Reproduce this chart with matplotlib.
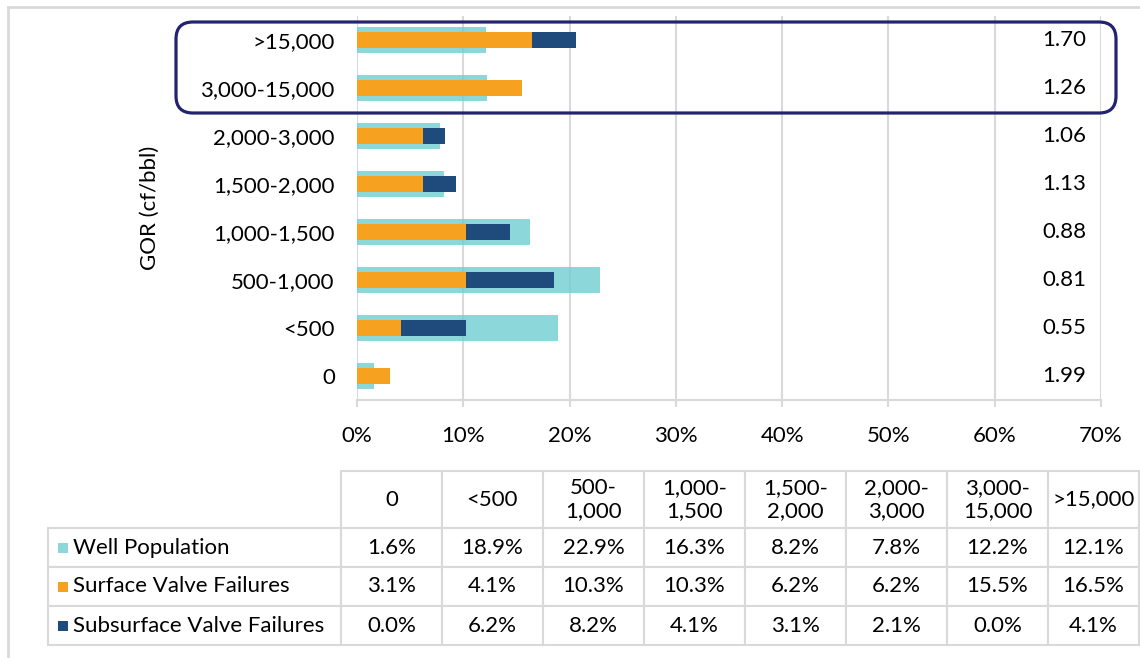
import numpy as np
import matplotlib
matplotlib.use("Agg")
import matplotlib.pyplot as plt
from matplotlib.table import Table
from matplotlib.patches import FancyBboxPatch, Rectangle
from matplotlib.lines import Line2D

plt.rcParams["font.family"] = ["Lato", "DejaVu Sans"]

# GOR classes, bottom to top
categories = ["0", "<500", "500-1,000", "1,000-1,500", "1,500-2,000",
              "2,000-3,000", "3,000-15,000", ">15,000"]
header_labels = ["0", "<500", "500-\n1,000", "1,000-\n1,500", "1,500-\n2,000",
                 "2,000-\n3,000", "3,000-\n15,000", ">15,000"]

# values in percent
well_population = [1.6, 18.9, 22.9, 16.3, 8.2, 7.8, 12.2, 12.1]
surface_failures = [3.1, 4.1, 10.3, 10.3, 6.2, 6.2, 15.5, 16.5]
subsurface_failures = [0.0, 6.2, 8.2, 4.1, 3.1, 2.1, 0.0, 4.1]

# failure rate ratio per class
ratios = ["1.99", "0.55", "0.81", "0.88", "1.13", "1.06", "1.26", "1.70"]

series_names = ["Well Population", "Surface Valve Failures", "Subsurface Valve Failures"]
series_colors = ["#8dd7da", "#f6a11f", "#1f4a7c"]
grid_color = "#d9d9d9"
fs = 16

W, H = 1140, 658
fig = plt.figure(figsize=(W / 100, H / 100), dpi=100)

ax = fig.add_axes([357 / W, 1 - 400 / H, 744 / W, 384 / H])
y = np.arange(len(categories))

ax.barh(y, well_population, height=0.55, color="#70cdd1", alpha=0.8, zorder=2)
ax.barh(y, surface_failures, height=0.33, color=series_colors[1], zorder=3)
ax.barh(y, subsurface_failures, height=0.33, left=surface_failures,
        color=series_colors[2], zorder=3)

for yi, r in zip(y, ratios):
    ax.text(68.6, yi, r, ha="right", va="center", fontsize=fs, zorder=4)

ax.set_xlim(0, 70)
ax.set_ylim(-0.5, len(categories) - 0.5)
ax.set_xticks(np.arange(0, 71, 10))
ax.set_xticklabels([f"{v}%" for v in range(0, 71, 10)], fontsize=fs)
ax.set_yticks(y)
ax.set_yticklabels(categories, fontsize=fs)
ax.tick_params(axis="x", length=5, width=1.5, color=grid_color, pad=14)
ax.tick_params(axis="y", length=0, pad=16)
ax.grid(axis="x", color=grid_color, linewidth=1.5, zorder=1)
ax.set_axisbelow(True)
for s in ["top", "right", "left"]:
    ax.spines[s].set_visible(False)
ax.spines["bottom"].set_color(grid_color)
ax.spines["bottom"].set_linewidth(1.5)
ax.set_ylabel("GOR (cf/bbl)", fontsize=fs)
ax.yaxis.set_label_coords(-0.265, 0.5)

# highlight box around the two highest GOR classes
box = FancyBboxPatch((1.76, (H - 113) / 100), 9.40, 0.91,
                     boxstyle="round,pad=0,rounding_size=0.17",
                     transform=fig.dpi_scale_trans, fill=False,
                     edgecolor="#23236f", linewidth=2.3, zorder=10)
fig.patches.append(box)

# frame lines at top and left
fig.add_artist(Line2D([8 / W, 1], [1 - 7 / H, 1 - 7 / H], color=grid_color, lw=2,
                      transform=fig.transFigure))
fig.add_artist(Line2D([8 / W, 8 / W], [0, 1 - 7 / H], color=grid_color, lw=2,
                      transform=fig.transFigure))

# data table; cell sizes given in figure fractions so the bbox scale is 1
tax = fig.add_axes([0, 0, 1, 1])
tax.axis("off")
tax.set_xlim(0, 1)
tax.set_ylim(0, 1)
tab_top, tab_bottom, tab_left, tab_right = 471, 645, 341, 1139
col_w = [101] * 7 + [91]
label_w = 293
head_h, row_h = 57, 39
table = Table(tax, bbox=[tab_left / W, 1 - tab_bottom / H, (tab_right - tab_left) / W,
                         (tab_bottom - tab_top) / H])
rows = [well_population, surface_failures, subsurface_failures]
for j, lab in enumerate(header_labels):
    table.add_cell(0, j, col_w[j] / W, head_h / H, text=lab, loc="center",
                   edgecolor=grid_color, facecolor="white")
for i, (name, vals) in enumerate(zip(series_names, rows)):
    table.add_cell(i + 1, -1, label_w / W, row_h / H, text=name, loc="left",
                   edgecolor=grid_color, facecolor="white")
    for j, v in enumerate(vals):
        table.add_cell(i + 1, j, col_w[j] / W, row_h / H, text=f"{v:.1f}%",
                       loc="center", edgecolor=grid_color, facecolor="white")
table.auto_set_font_size(False)
table.set_fontsize(fs)
for cell in table.get_celld().values():
    cell.set_linewidth(1.5)
    cell.PAD = 0.085
tax.add_table(table)

# legend squares in the row label cells
sq = 10
for i, c in enumerate(series_colors):
    yc = tab_top + head_h + row_h * (i + 0.5)
    fig.patches.append(Rectangle((58 / W, 1 - (yc + sq / 2) / H), sq / W, sq / H,
                                 facecolor=c, edgecolor="none",
                                 transform=fig.transFigure, zorder=20))

fig.savefig("out.png", dpi=100)
